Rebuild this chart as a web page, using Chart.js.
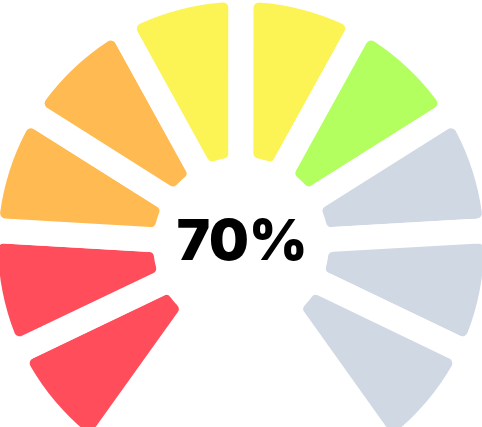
<!DOCTYPE html>
<html>
<head>
<meta charset="utf-8">
<script src="https://cdn.jsdelivr.net/npm/chart.js@4/dist/chart.umd.min.js"></script>
<style>
  html, body { margin: 0; padding: 0; background: #ffffff; overflow: hidden; width: 482px; height: 427px; }
  #wrap { position: absolute; left: -27px; top: -49px; width: 536px; height: 540px; }
</style>
</head>
<body>
<div id="wrap"><canvas id="c" width="536" height="540"></canvas></div>
<script>
const segmentLabels = ['1', '2', '3', '4', '5', '6', '7', '8', '9', '10'];
const segmentValues = [1, 1, 1, 1, 1, 1, 1, 1, 1, 1];
const segmentColors = ['#FF4D5B', '#FF4D5B', '#FFBB51', '#FFBB51', '#FCF455', '#FCF455', '#B3FF5F', '#D0D8E4', '#D0D8E4', '#D0D8E4'];
const gaugeValue = 70;
const centerText = gaugeValue + '%';

const centerTextPlugin = {
  id: 'centerText',
  afterDraw(chart) {
    const meta = chart.getDatasetMeta(0);
    const arc = meta.data[0];
    const ctx = chart.ctx;
    ctx.save();
    ctx.font = '900 56px Inter';
    ctx.fillStyle = '#000000';
    ctx.textAlign = 'center';
    ctx.textBaseline = 'middle';
    ctx.fillText(centerText, arc.x + 1, arc.y - 2);
    ctx.restore();
  }
};

new Chart(document.getElementById('c'), {
  type: 'doughnut',
  data: {
    labels: segmentLabels,
    datasets: [{
      data: segmentValues,
      backgroundColor: segmentColors,
      borderColor: '#ffffff',
      borderWidth: 25,
      borderRadius: 18,
      hoverOffset: 0
    }]
  },
  options: {
    responsive: false,
    devicePixelRatio: 1,
    animation: false,
    rotation: -144.5,
    circumference: 289,
    cutout: '29.5%',
    layout: { padding: 0 },
    plugins: {
      legend: { display: false },
      tooltip: { enabled: false }
    }
  },
  plugins: [centerTextPlugin]
});
</script>
</body>
</html>
